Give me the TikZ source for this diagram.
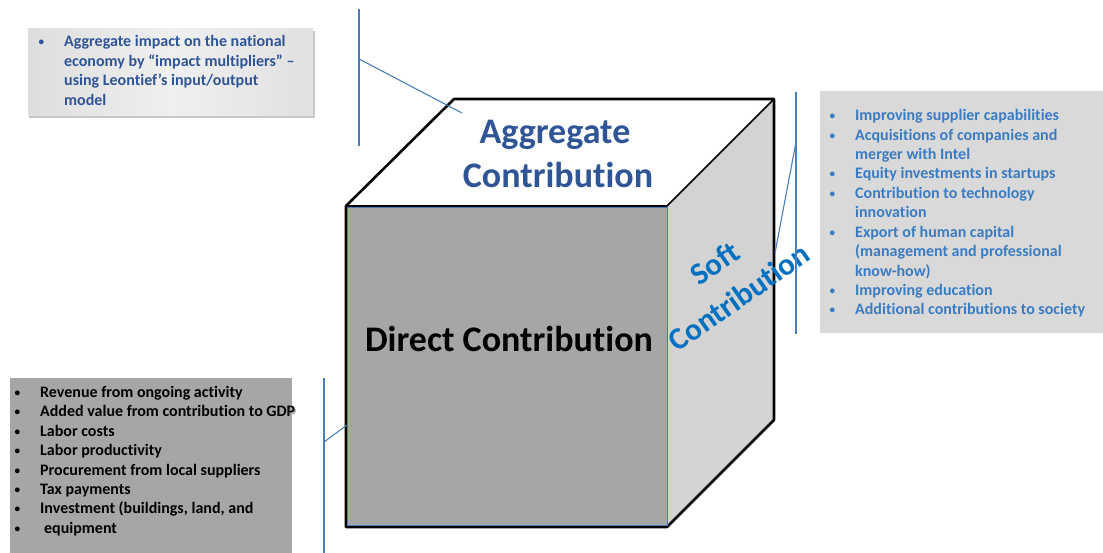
\documentclass[tikz,border=0pt]{standalone}
\usepackage{fontspec}
\setmainfont{Carlito}[Ligatures=NoCommon]

\definecolor{aggblue}{HTML}{2F5597}
\definecolor{softblue}{HTML}{0070C0}
\definecolor{listblue}{HTML}{3A7CC3}
\definecolor{leader}{HTML}{4A7EBB}
\definecolor{frontgray}{HTML}{A6A6A6}
\definecolor{sidegray}{HTML}{D3D3D3}
\definecolor{panelgray}{HTML}{D9D9D9}

% small bullet hung to the left of a list line
\newcommand\hangbul[1]{\llap{\raisebox{1pt}{\scalebox{0.7}{\textbullet}}\hspace{#1}}}
% text with a soft drop shadow
\newcommand\shadowtxt[1]{\makebox[0pt][l]{\hspace{1.2pt}\raisebox{-1.3pt}{\color{black!35}#1}}#1}

\tikzset{
  leaderline/.style={draw=leader, line width=1.1pt},
  listline/.style={anchor=base west, inner sep=0pt, font=\bfseries\fontsize{16}{19}\selectfont},
  bigtitle/.style={anchor=base, inner sep=0pt, font=\bfseries\fontsize{36}{44}\selectfont},
  softtitle/.style={anchor=base, inner sep=0pt, rotate=35, text=softblue,
    font=\bfseries\fontsize{31}{40}\selectfont},
  panel/.style={rectangle, anchor=north west, inner sep=0pt, draw=none},
}

\begin{document}
\begin{tikzpicture}[x=1pt,y=-1pt]
\useasboundingbox (0,0) rectangle (1103,553);
\fill[white] (0,0) rectangle (1103,553);

% ---------- cube ----------
\coordinate (fTL) at (346,206);
\coordinate (fTR) at (667,206);
\coordinate (fBR) at (667,527);
\coordinate (fBL) at (346,527);
\coordinate (bTL) at (454,99);
\coordinate (bTR) at (774,99);
\coordinate (bBR) at (774,420);

\fill[white] (fTL)--(bTL)--(bTR)--(fTR)--cycle;
\fill[sidegray] (fTR)--(bTR)--(bBR)--(fBR)--cycle;
\fill[frontgray] (fTL) rectangle (fBR);
\draw[black, line width=2.6pt, line join=round]
  (fBL)--(fTL)--(bTL)--(bTR)--(bBR)--(fBR)--cycle;
\draw[black, line width=1.6pt] (fTL)--(fTR)--(bTR);
\draw[leader, line width=1pt] ([shift={(1.6,1.2)}]fTL) rectangle ([shift={(0,-1.6)}]fBR);

\node[bigtitle, text=aggblue] (aggA) at (555,144) {Aggregate};
\node[bigtitle, text=aggblue] (aggB) at (558,188) {Contribution};
\node[bigtitle, text=black] (direct) at (509,352) {Direct Contribution};
\node[softtitle] (softA) at (721,272) {Soft};
\node[softtitle] (softB) at (745,306) {Contribution};

% ---------- aggregate panel (top left), bevelled ----------
\fill[black!22] (29,31) rectangle (315,118);
\node[panel, minimum width=285pt, minimum height=87pt,
  left color=black!13, right color=black!12, middle color=black!6] (aggpanel) at (28,28) {};
\foreach \t [count=\i from 0] in {%
  {\hangbul{20pt}Aggregate impact on the national},
  {economy by “impact multipliers” –},
  {using Leontief’s input/output},
  {model}}
  \node[listline, text=aggblue] (agg\i) at (64,{47+\i*19.35}) {\t};

% ---------- soft panel (right) ----------
\node[panel, fill=panelgray, minimum width=283pt, minimum height=242pt] (softpanel) at (820,91) {};
\foreach \t [count=\i from 0] in {%
  {\hangbul{20pt}Improving supplier capabilities},
  {\hangbul{20pt}Acquisitions of companies and},
  {merger with Intel},
  {\hangbul{20pt}Equity investments in startups},
  {\hangbul{20pt}Contribution to technology},
  {innovation},
  {\hangbul{20pt}Export of human capital},
  {(management and professional},
  {know-how)},
  {\hangbul{20pt}Improving education},
  {\hangbul{20pt}Additional contributions to society}}
  \node[listline, text=listblue] (soft\i) at (855,{120.7+\i*19.43}) {\t};

% ---------- direct panel (bottom left) ----------
\node[panel, fill=frontgray, minimum width=282pt, minimum height=180pt] (directpanel) at (10,378) {};
\foreach \t [count=\i from 0] in {%
  {Revenue from ongoing activity},
  {Added value from contribution to GDP},
  {Labor costs},
  {Labor productivity},
  {Procurement from local suppliers},
  {Tax payments},
  {Investment (buildings, land, and},
  {\hspace{4pt}equipment}}
  \node[listline, text=black] (direct\i) at (40,{397.3+\i*19.43}) {\hangbul{20pt}\shadowtxt{\t}};

% ---------- leader lines ----------
\coordinate (tlTop) at (359,9);
\coordinate (tlBot) at (359,146);
\coordinate (tlJoin) at (359,59);
\coordinate (tlEnd) at (462,113);
\draw[leaderline] (tlTop) -- (tlBot);
\draw[leaderline] (tlJoin) -- (tlEnd);

\coordinate (rTop) at (796,92);
\coordinate (rBot) at (796,334);
\coordinate (rJoin) at (796,142);
\coordinate (rEnd) at (775,253);
\draw[leaderline] (rTop) -- (rBot);
\draw[leaderline] (rJoin) -- (rEnd);

\coordinate (blTop) at (324,378);
\coordinate (blBot) at (324,553);
\coordinate (blJoin) at (324,442);
\coordinate (blEnd) at (347,425);
\draw[leaderline] (blTop) -- (blBot);
\draw[leaderline] (blJoin) -- (blEnd);
\end{tikzpicture}
\end{document}
